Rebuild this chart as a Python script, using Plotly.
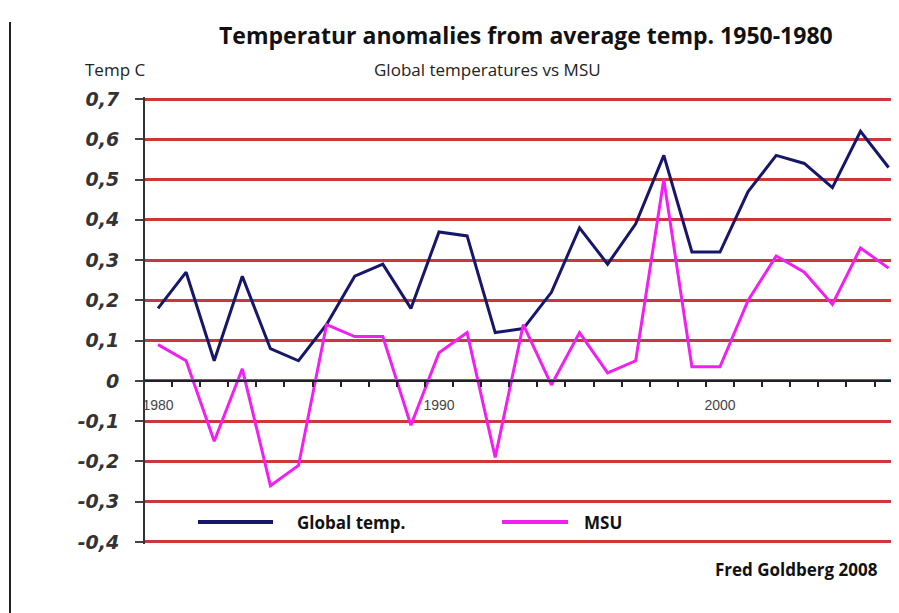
import plotly.graph_objects as go

years = list(range(1980, 2007))
global_temp = [0.18, 0.27, 0.05, 0.26, 0.08, 0.05, 0.14, 0.26, 0.29, 0.18,
               0.37, 0.36, 0.12, 0.13, 0.22, 0.38, 0.29, 0.39, 0.56, 0.32,
               0.32, 0.47, 0.56, 0.54, 0.48, 0.62, 0.53]
msu = [0.09, 0.05, -0.15, 0.03, -0.26, -0.21, 0.14, 0.11, 0.11, -0.11,
       0.07, 0.12, -0.19, 0.14, -0.01, 0.12, 0.02, 0.05, 0.50, 0.035,
       0.035, 0.20, 0.31, 0.27, 0.19, 0.33, 0.28]

y_tickvals = [0.7, 0.6, 0.5, 0.4, 0.3, 0.2, 0.1, 0, -0.1, -0.2, -0.3, -0.4]
y_ticklabels = ["0,7", "0,6", "0,5", "0,4", "0,3", "0,2", "0,1", "0", "-0,1", "-0,2", "-0,3", "-0,4"]
x_tickvals = [1980, 1990, 2000]
x_ticklabels = ["1980", "1990", "2000"]

# page has an 8px body margin; figure coordinates are reference minus 8
OFF = 8
W, H = 899 - OFF, 613 - OFF
L, R, T, B = 137, 0, 89, 69
PW, PH = W - L - R, H - T - B

def px(x):
    return (x - OFF - L) / PW

def py(y):
    return (H - B - (y - OFF)) / PH

NAVY = "#16166a"
MAGENTA = "#f020f0"

fig = go.Figure()
fig.add_trace(go.Scatter(x=years, y=global_temp, mode="lines",
                         line=dict(color=NAVY, width=3), showlegend=False))
fig.add_trace(go.Scatter(x=years, y=msu, mode="lines",
                         line=dict(color=MAGENTA, width=3), showlegend=False))

ymin, ymax = -0.405, 0.705
zero_pos = (0 - ymin) / (ymax - ymin)

fig.update_layout(
    width=W, height=H,
    margin=dict(l=L, r=R, t=T, b=B, pad=0),
    paper_bgcolor="white", plot_bgcolor="white",
    xaxis=dict(range=[1979.537, 2006.37], anchor="free", position=zero_pos,
               showgrid=False, zeroline=False, showline=True, linecolor="#222",
               linewidth=2, tickvals=x_tickvals, ticktext=x_ticklabels,
               ticks="", ticklabelstandoff=11,
               tickfont=dict(family="Liberation Sans", size=14, color="#444"),
               minor=dict(tick0=1979.5, dtick=1, ticks="outside", ticklen=5,
                          tickcolor="#222", tickwidth=1.5, showgrid=False)),
    yaxis=dict(range=[ymin, ymax], tickvals=y_tickvals, ticktext=y_ticklabels,
               showgrid=True, gridcolor="#cc3838", gridwidth=2.5, zeroline=False,
               showline=True, linecolor="#333", linewidth=2,
               ticks="outside", ticklen=8, tickcolor="#444", tickwidth=1.5,
               ticklabelstandoff=12,
               tickfont=dict(family="DejaVu Sans", size=19, color="#333",
                             weight="bold", style="italic")),
)

shapes = [
    dict(type="line", xref="paper", yref="paper", x0=px(10), x1=px(10),
         y0=py(22), y1=py(613), line=dict(color="#222", width=2)),
    dict(type="line", xref="paper", yref="paper", x0=px(198), x1=px(273),
         y0=py(522), y1=py(522), line=dict(color=NAVY, width=4)),
    dict(type="line", xref="paper", yref="paper", x0=px(502), x1=px(568),
         y0=py(522), y1=py(522), line=dict(color=MAGENTA, width=4)),
]
fig.update_layout(shapes=shapes)

anns = [
    dict(text="<b>Temperatur anomalies from average temp. 1950-1980</b>", x=px(217), y=py(35),
         font=dict(family="Open Sans", size=23, color="#111"), xanchor="left"),
    dict(text="Global temperatures vs MSU", x=px(372), y=py(70),
         font=dict(family="Open Sans", size=17, color="#222"), xanchor="left"),
    dict(text="Temp C", x=px(83), y=py(70),
         font=dict(family="Open Sans", size=17, color="#222"), xanchor="left"),
    dict(text="<b>Global temp.</b>", x=px(295), y=py(522),
         font=dict(family="Open Sans", size=17, color="#111"), xanchor="left"),
    dict(text="<b>MSU</b>", x=px(582), y=py(522),
         font=dict(family="Open Sans", size=17, color="#111"), xanchor="left"),
    dict(text="<b>Fred Goldberg 2008</b>", x=px(880), y=py(569),
         font=dict(family="Open Sans", size=17, color="#111"), xanchor="right"),
]
for a in anns:
    fig.add_annotation(xref="paper", yref="paper", showarrow=False, yanchor="middle", **a)

fig.write_html("out.html")
